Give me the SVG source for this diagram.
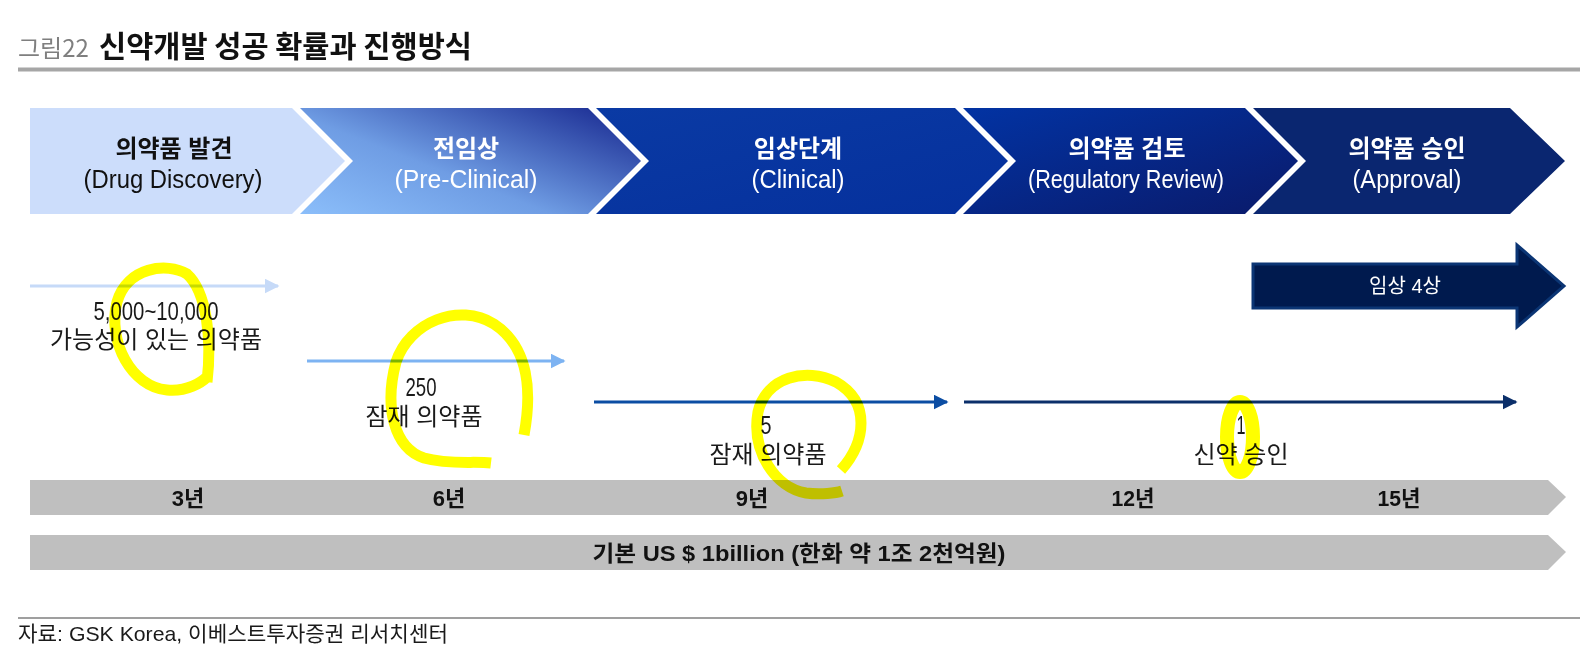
<svg xmlns="http://www.w3.org/2000/svg" width="1580" height="662" viewBox="0 0 1580 662">
<defs>
<linearGradient id="g2" x1="0" y1="1" x2="1" y2="0.2">
<stop offset="0" stop-color="#8BBEFA"/>
<stop offset="0.45" stop-color="#6F9DE4"/>
<stop offset="1" stop-color="#22369A"/>
</linearGradient>
<linearGradient id="g3" x1="0" y1="0" x2="1" y2="1">
<stop offset="0" stop-color="#0A3AA4"/>
<stop offset="1" stop-color="#05309C"/>
</linearGradient>
<linearGradient id="g4" x1="0" y1="0" x2="1" y2="1">
<stop offset="0" stop-color="#0233A3"/>
<stop offset="1" stop-color="#0A1A6A"/>
</linearGradient>
<marker id="ah1" viewBox="0 0 10 10" refX="9" refY="5" markerWidth="5" markerHeight="5" orient="auto" markerUnits="strokeWidth"><path d="M0,0 L10,5 L0,10 Z" fill="#C6DAF8"/></marker>
<marker id="ah2" viewBox="0 0 10 10" refX="9" refY="5" markerWidth="5" markerHeight="5" orient="auto" markerUnits="strokeWidth"><path d="M0,0 L10,5 L0,10 Z" fill="#7DB3F2"/></marker>
<marker id="ah3" viewBox="0 0 10 10" refX="9" refY="5" markerWidth="5" markerHeight="5" orient="auto" markerUnits="strokeWidth"><path d="M0,0 L10,5 L0,10 Z" fill="#0B4DA3"/></marker>
<marker id="ah4" viewBox="0 0 10 10" refX="9" refY="5" markerWidth="5" markerHeight="5" orient="auto" markerUnits="strokeWidth"><path d="M0,0 L10,5 L0,10 Z" fill="#0B2F6A"/></marker>
</defs>
<style>
text{font-family:"Liberation Sans","Noto Sans CJK KR",sans-serif;}
.kr{font-size:24px;font-weight:bold;text-anchor:middle;}
.en{font-size:25px;text-anchor:middle;}
.w{fill:#FFFFFF;}
.k{fill:#111111;}
.num{font-size:25px;text-anchor:middle;fill:#1A1A1A;}
.lab{font-size:24px;text-anchor:middle;fill:#1A1A1A;}
.yr{font-size:22px;font-weight:bold;text-anchor:middle;fill:#111111;}
.bar{fill:#BFBFBF;}
.hl{fill:none;stroke:#FFFF00;stroke-width:11;stroke-linecap:butt;mix-blend-mode:multiply;}
</style>
<rect width="1580" height="662" fill="#FFFFFF"/>

<g id="title">
<text x="18" y="57" style="font-size:24px;fill:#7F7F7F;font-family:'Noto Sans CJK KR','Liberation Sans',sans-serif;">그림22</text>
<text x="99" y="57" style="font-size:29.5px;font-weight:bold;fill:#111111;font-family:'Noto Sans CJK KR','Liberation Sans',sans-serif;">신약개발 성공 확률과 진행방식</text>
<line x1="18" y1="69.5" x2="1580" y2="69.5" stroke="#A6A6A6" stroke-width="4"/>
</g>

<g id="stage1">
<polygon points="30,108 292,108 345,161 292,214 30,214" fill="#CCDDFB"/>
<text class="kr k" x="174" y="157">의약품 발견</text>
<text class="en k" x="173" y="188" textLength="179" lengthAdjust="spacingAndGlyphs">(Drug Discovery)</text>
</g>
<g id="stage2">
<polygon points="300,108 588,108 641,161 588,214 300,214 353,161" fill="url(#g2)"/>
<text class="kr w" x="466" y="157">전임상</text>
<text class="en w" x="466" y="188" textLength="143" lengthAdjust="spacingAndGlyphs">(Pre-Clinical)</text>
</g>
<g id="stage3">
<polygon points="596,108 955,108 1008,161 955,214 596,214 649,161" fill="url(#g3)"/>
<text class="kr w" x="798" y="157">임상단계</text>
<text class="en w" x="798" y="188" textLength="93" lengthAdjust="spacingAndGlyphs">(Clinical)</text>
</g>
<g id="stage4">
<polygon points="963,108 1245,108 1298,161 1245,214 963,214 1016,161" fill="url(#g4)"/>
<text class="kr w" x="1127" y="157">의약품 검토</text>
<text class="en w" x="1126" y="188" textLength="196" lengthAdjust="spacingAndGlyphs">(Regulatory Review)</text>
</g>
<g id="stage5">
<polygon points="1253,108 1510,108 1565,161 1510,214 1253,214 1306,161" fill="#0A2670"/>
<text class="kr w" x="1407" y="157">의약품 승인</text>
<text class="en w" x="1407" y="188" textLength="109" lengthAdjust="spacingAndGlyphs">(Approval)</text>
</g>

<g id="connectors">
<line x1="30" y1="286" x2="278" y2="286" stroke="#C6DAF8" stroke-width="3" marker-end="url(#ah1)"/>
<line x1="307" y1="361" x2="564" y2="361" stroke="#7DB3F2" stroke-width="3" marker-end="url(#ah2)"/>
<line x1="594" y1="402" x2="947" y2="402" stroke="#0B4DA3" stroke-width="3" marker-end="url(#ah3)"/>
<line x1="964" y1="402" x2="1516" y2="402" stroke="#0B2F6A" stroke-width="3" marker-end="url(#ah4)"/>
</g>

<g id="count1">
<text class="num" x="156" y="320" textLength="125" lengthAdjust="spacingAndGlyphs">5,000~10,000</text>
<text class="lab" x="156" y="348">가능성이 있는 의약품</text>
</g>
<g id="count2">
<text class="num" x="421" y="396" textLength="31" lengthAdjust="spacingAndGlyphs">250</text>
<text class="lab" x="424" y="425">잠재 의약품</text>
</g>
<g id="count3">
<text class="num" x="766" y="434" textLength="11" lengthAdjust="spacingAndGlyphs">5</text>
<text class="lab" x="768" y="463">잠재 의약품</text>
</g>
<g id="count4">
<text class="num" x="1241" y="434" textLength="9" lengthAdjust="spacingAndGlyphs">1</text>
<text class="lab" x="1241" y="463">신약 승인</text>
</g>

<g id="phase4">
<polygon points="1253,264 1517,264 1517,245 1564,286 1517,327 1517,308 1253,308" fill="#001A4E" stroke="#0B3574" stroke-width="3"/>
<text x="1405" y="293" style="font-size:20px;fill:#FFFFFF;text-anchor:middle;">임상 4상</text>
</g>

<g id="years">
<polygon class="bar" points="30,480 1548,480 1566,497 1548,515 30,515"/>
<text class="yr" x="188" y="506">3년</text>
<text class="yr" x="449" y="506">6년</text>
<text class="yr" x="752" y="506">9년</text>
<text class="yr" x="1133" y="506" textLength="43" lengthAdjust="spacingAndGlyphs">12년</text>
<text class="yr" x="1399" y="506" textLength="43" lengthAdjust="spacingAndGlyphs">15년</text>
</g>

<g id="cost">
<polygon class="bar" points="30,535 1548,535 1566,552 1548,570 30,570"/>
<text class="yr" x="799" y="561" textLength="413" lengthAdjust="spacingAndGlyphs">기본 US $ 1billion (한화 약 1조 2천억원)</text>
</g>

<g id="highlights">
<path class="hl" d="M207,382 C212,340 207,292 187,274 C167,262 127,267 117,302 C107,342 132,387 167,390 C187,392 202,382 207,377"/>
<path class="hl" d="M524,435 C532,392 529,347 494,324 C459,302 409,322 396,362 C384,407 394,448 424,458 C449,465 474,461 491,463"/>
<path class="hl" d="M841,470 C866,442 871,402 836,382 C806,367 766,377 758,412 C751,452 776,488 806,493 C821,495 836,493 842,491"/>
<ellipse class="hl" cx="1240" cy="437" rx="13" ry="35" style="stroke-width:14"/>
</g>

<g id="footer">
<line x1="18" y1="618" x2="1580" y2="618" stroke="#7F7F7F" stroke-width="1.5"/>
<text x="18" y="641" textLength="430" lengthAdjust="spacingAndGlyphs" style="font-size:21px;fill:#1A1A1A;">자료: GSK Korea, 이베스트투자증권 리서치센터</text>
</g>
</svg>
